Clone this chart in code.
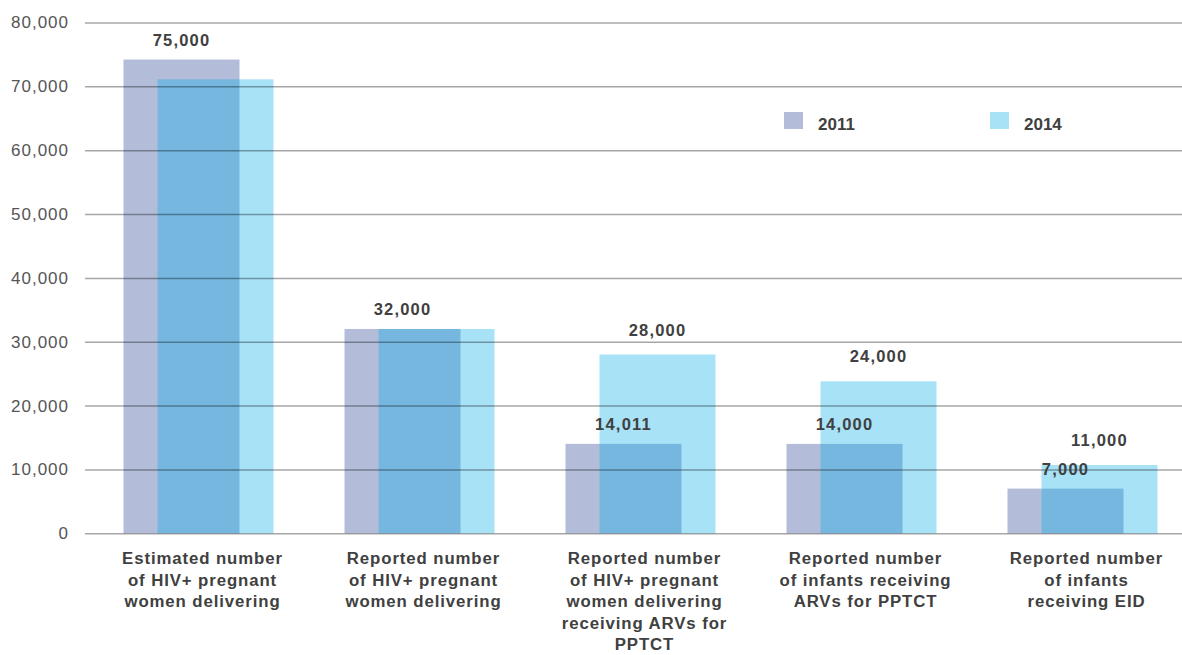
<!DOCTYPE html>
<html>
<head>
<meta charset="utf-8">
<script src="https://cdn.jsdelivr.net/npm/d3@7"></script>
<style>
	body { margin: 0; background: #fff; }
	svg { display: block; }
</style>
</head>
<body>
<div id="chart"></div>
<script>
// Chart data
const categories = [
	["Estimated number", "of HIV+ pregnant", "women delivering"],
	["Reported number", "of HIV+ pregnant", "women delivering"],
	["Reported number", "of HIV+ pregnant", "women delivering", "receiving ARVs for", "PPTCT"],
	["Reported number", "of infants receiving", "ARVs for PPTCT"],
	["Reported number", "of infants", "receiving EID"],
];
const values2011 = [74200, 32000, 14011, 14000, 7000];
const values2014 = [71100, 32000, 28000, 23800, 10700];
const labels2011 = ["75,000", "32,000", "14,011", "14,000", "7,000"];
const labels2014 = [null, null, "28,000", "24,000", "11,000"];
const yTicks = [0, 10000, 20000, 30000, 40000, 50000, 60000, 70000, 80000];
const seriesNames = ["2011", "2014"];

const width = 1182;
const height = 655;
const margin = { top: 22.5, right: -11, bottom: 122, left: 88 };
const barW = 116;
const shift = 17;
const textColor = "#404040";
const colors = ["#b3bdda", "#a8e2f7"];

const svg = d3
	.select("#chart")
	.append("svg")
	.attr("width", width)
	.attr("height", height)
	.style("font-family", "'Liberation Sans', Arial, sans-serif");

const x = d3
	.scaleBand()
	.domain(d3.range(categories.length))
	.range([margin.left, width - margin.right]);

const y = d3
	.scaleLinear()
	.domain([0, 80000])
	.range([height - margin.bottom + 0.3, margin.top]);

const mid = (i) => x(i) + x.bandwidth() / 2;

// 2011 bars (solid lavender)
svg
	.append("g")
	.selectAll("rect")
	.data(values2011)
	.join("rect")
	.attr("x", (d, i) => mid(i) - shift - barW / 2)
	.attr("y", (d) => y(d))
	.attr("width", barW)
	.attr("height", (d) => y(0) - y(d))
	.attr("fill", colors[0]);

// 2014 bars (translucent blue, darker where they overlap)
svg
	.append("g")
	.selectAll("rect")
	.data(values2014)
	.join("rect")
	.attr("x", (d, i) => mid(i) + shift - barW / 2)
	.attr("y", (d) => y(d))
	.attr("width", barW)
	.attr("height", (d) => y(0) - y(d))
	.attr("fill", "rgb(5,171,231)")
	.attr("fill-opacity", 0.35);

// gridlines on top of the bars
const yAxis = d3
	.axisLeft(y)
	.tickValues(yTicks)
	.tickSize(-(width - margin.left + 3))
	.tickPadding(16)
	.tickFormat(d3.format(","));

svg
	.append("g")
	.attr("transform", `translate(${margin.left - 3},0)`)
	.call(yAxis)
	.call((g) => g.select(".domain").remove())
	.call((g) =>
		g
			.selectAll(".tick line")
			.attr("stroke", "#000")
			.attr("stroke-opacity", 0.35)
			.attr("stroke-width", 1.5)
	)
	.call((g) =>
		g
			.selectAll(".tick text")
			.attr("fill", "#555")
			.style("font-size", "17px")
			.style("letter-spacing", "1px")
			.style("font-family", "'Liberation Sans', Arial, sans-serif")
	);

// value labels above the bars
const valueLabel = (vals, labels, dir, dy) => {
	const rows = labels
		.map((label, i) => ({ label, i }))
		.filter((d) => d.label !== null);
	svg
		.append("g")
		.selectAll("text")
		.data(rows)
		.join("text")
		.attr("x", (d) => mid(d.i) + dir * shift)
		.attr("y", (d) => y(vals[d.i]) - dy)
		.attr("text-anchor", "middle")
		.attr("fill", textColor)
		.style("font-size", "16.5px")
		.style("font-weight", "bold")
		.style("letter-spacing", "1.2px")
		.text((d) => d.label);
};
valueLabel(values2011, labels2011, -1, 14);
valueLabel(values2014, labels2014, 1, 19);

// category labels
const catG = svg
	.append("g")
	.selectAll("text")
	.data(categories)
	.join("text")
	.attr("text-anchor", "middle")
	.attr("fill", textColor)
	.style("font-size", "16.8px")
	.style("font-weight", "bold")
	.style("letter-spacing", "0.9px")
	.attr("transform", (d, i) => `translate(${mid(i) + 4},564)`);

catG
	.selectAll("tspan")
	.data((d) => d)
	.join("tspan")
	.attr("x", 0)
	.attr("y", (d, j) => j * 21.5)
	.text((d) => d);

// legend
const legendX = [784, 990];
const legend = svg
	.append("g")
	.selectAll("g")
	.data(seriesNames)
	.join("g")
	.attr("transform", (d, i) => `translate(${legendX[i]},112)`);

legend
	.append("rect")
	.attr("width", 19)
	.attr("height", 17)
	.attr("fill", (d, i) => colors[i]);

legend
	.append("text")
	.attr("x", 34)
	.attr("y", 18)
	.attr("fill", textColor)
	.style("font-size", "17px")
	.style("font-weight", "bold")
	.text((d) => d);
</script>
</body>
</html>
